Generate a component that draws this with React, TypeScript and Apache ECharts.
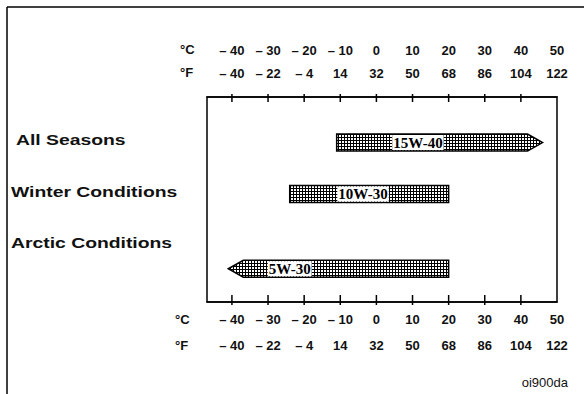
import React, { useEffect, useRef } from "react";
import * as echarts from "echarts";

const celsiusTicks = [-40, -30, -20, -10, 0, 10, 20, 30, 40, 50];
const fahrenheitTicks = [-40, -22, -4, 14, 32, 50, 68, 86, 104, 122];
const tickMarks = [-40, -30, -20, -10, 0, 10, 20, 30, 40];
const categories = ["All Seasons", "Winter Conditions", "Arctic Conditions"];
const categoryRows = [0, 1, 2];
const grades = ["15W-40", "10W-30", "5W-30"];
const gradeFrom = [-11, -24, -41];
const gradeTo = [46, 20, 20];
const gradeArrow = [1, 0, -1];
const gradeRow = [0.05, 1.05, 2.5];
const gradeLabelAt = [11.5, -3.7, -24];
const figureCode = "oi900da";

const fmtC = (v: number) => (v < 0 ? "\u2013 " + -v : String(v));
const fmtF = (v: number) => {
  const i = celsiusTicks.indexOf(v);
  const f = fahrenheitTicks[i];
  return f < 0 ? "\u2013 " + -f : String(f);
};

function makePattern() {
  const c = document.createElement("canvas");
  c.width = 3;
  c.height = 3;
  const ctx = c.getContext("2d")!;
  ctx.fillStyle = "#000";
  ctx.fillRect(0, 0, 3, 3);
  ctx.fillStyle = "#fff";
  ctx.fillRect(0, 0, 2, 2);
  return { image: c, repeat: "repeat", imageWidth: 3, imageHeight: 3 } as any;
}

const tickFont = { fontFamily: "Liberation Sans", fontSize: 13, fontWeight: "bold" as const, color: "#111" };

export default function App() {
  const ref = useRef<HTMLDivElement>(null);
  useEffect(() => {
    const chart = echarts.init(ref.current!, null, { renderer: "svg" });
    const pattern = makePattern();
    const xBase = { type: "value", min: -46.9, max: 50, splitLine: { show: false } };
    const option: any = {
      animation: false,
      backgroundColor: "#fff",
      grid: { left: 207, top: 97, width: 350, height: 205, show: true, borderColor: "#000", borderWidth: 1.5, backgroundColor: "transparent" },
      xAxis: [
        {
          ...xBase, position: "bottom", offset: 26,
          axisLine: { show: false, onZero: false }, axisTick: { show: false },
          axisLabel: { customValues: celsiusTicks, formatter: fmtF, margin: 11, ...tickFont, hideOverlap: false },
        },
        {
          ...xBase, position: "bottom", offset: 0,
          axisLine: { show: true, onZero: false, lineStyle: { color: "#000", width: 1.5 } },
          axisTick: { show: false },
          axisLabel: { customValues: celsiusTicks, formatter: fmtC, margin: 11, ...tickFont, hideOverlap: false },
        },
        {
          ...xBase, position: "top", offset: 0,
          axisLine: { show: true, onZero: false, lineStyle: { color: "#000", width: 1.5 } },
          axisTick: { show: false },
          axisLabel: { customValues: celsiusTicks, formatter: fmtF, margin: 17, ...tickFont, hideOverlap: false },
        },
        {
          ...xBase, position: "top", offset: 23,
          axisLine: { show: false, onZero: false }, axisTick: { show: false },
          axisLabel: { customValues: celsiusTicks, formatter: fmtC, margin: 17, ...tickFont, hideOverlap: false },
        },
      ],
      yAxis: {
        type: "value", inverse: true, min: -0.835, max: 3.146,
        axisLine: { show: false }, axisTick: { show: false }, axisLabel: { show: false }, splitLine: { show: false },
      },
      series: [
        {
          type: "custom",
          name: "ticks",
          xAxisIndex: 1,
          silent: true,
          data: tickMarks.map((v) => [v, 0]),
          renderItem: (params: any, api: any) => {
            const x = api.coord([api.value(0), 0])[0];
            const cs = params.coordSys;
            const top = cs.y;
            const bottom = cs.y + cs.height;
            const ls = { stroke: "#000", lineWidth: 1.5 };
            return {
              type: "group",
              children: [
                { type: "line", shape: { x1: x, y1: top - 3, x2: x, y2: top + 5 }, style: ls },
                { type: "line", shape: { x1: x, y1: bottom - 7, x2: x, y2: bottom + 3 }, style: ls },
              ],
            };
          },
        },
        {
          type: "custom",
          name: "categories",
          xAxisIndex: 3,
          data: categories.map((name, i) => ({ name, value: [0, categoryRows[i]] })),
          renderItem: (params: any, api: any) => {
            const y = api.coord([0, api.value(1)])[1];
            return {
              type: "text",
              x: params.dataIndex === 0 ? 16 : 11,
              y,
              scaleX: 1.29,
              style: {
                text: categories[params.dataIndex],
                x: 0, y: 0,
                align: "left", verticalAlign: "middle",
                font: "bold 15px 'Liberation Sans'",
                fill: "#111",
              },
            };
          },
        },
        {
          type: "custom",
          name: "grades",
          xAxisIndex: 0,
          data: grades.map((g, i) => ({ name: g, value: [gradeFrom[i], gradeTo[i], gradeRow[i], gradeLabelAt[i], gradeArrow[i]] })),
          renderItem: (params: any, api: any) => {
            const lo = api.value(0), hi = api.value(1), row = api.value(2), lab = api.value(3), dir = api.value(4);
            const p0 = api.coord([lo, row]);
            const p1 = api.coord([hi, row]);
            const pl = api.coord([lab, row]);
            const y = p0[1];
            const h = 17;
            const d = 15;
            let pts: number[][];
            if (dir > 0) {
              pts = [[p0[0], y - h / 2], [p1[0] - d, y - h / 2], [p1[0], y], [p1[0] - d, y + h / 2], [p0[0], y + h / 2]];
            } else if (dir < 0) {
              pts = [[p0[0], y], [p0[0] + d, y - h / 2], [p1[0], y - h / 2], [p1[0], y + h / 2], [p0[0] + d, y + h / 2]];
            } else {
              pts = [[p0[0], y - h / 2], [p1[0], y - h / 2], [p1[0], y + h / 2], [p0[0], y + h / 2]];
            }
            return {
              type: "group",
              children: [
                { type: "polygon", shape: { points: pts }, style: { fill: pattern, stroke: "#000", lineWidth: 1.5 } },
                {
                  type: "text",
                  style: {
                    text: grades[params.dataIndex],
                    x: pl[0], y: y,
                    align: "center", verticalAlign: "middle",
                    font: "bold 15px 'Liberation Serif'",
                    fill: "#000",
                    backgroundColor: "#fff",
                    padding: [0, 1, 0, 1],
                  },
                },
              ],
            };
          },
        },
      ],
      graphic: [
        { type: "line", shape: { x1: 7, y1: 7, x2: 584, y2: 7 }, style: { stroke: "#000", lineWidth: 1.5 } },
        { type: "line", shape: { x1: 7, y1: 7, x2: 7, y2: 394 }, style: { stroke: "#000", lineWidth: 1.5 } },
        { type: "text", left: 180, top: 43, style: { text: "°C", font: "bold 13px 'Liberation Sans'", fill: "#111" } },
        { type: "text", left: 180, top: 66, style: { text: "°F", font: "bold 13px 'Liberation Sans'", fill: "#111" } },
        { type: "text", left: 175, top: 313, style: { text: "°C", font: "bold 13px 'Liberation Sans'", fill: "#111" } },
        { type: "text", left: 175, top: 339, style: { text: "°F", font: "bold 13px 'Liberation Sans'", fill: "#111" } },
        { type: "text", right: 16, top: 376, style: { text: figureCode, font: "13px 'Liberation Sans'", fill: "#111" } },
      ],
    };
    chart.setOption(option);
    return () => chart.dispose();
  }, []);
  return <div ref={ref} style={{ position: "fixed", left: 0, top: 0, width: 584, height: 394 }} />;
}
